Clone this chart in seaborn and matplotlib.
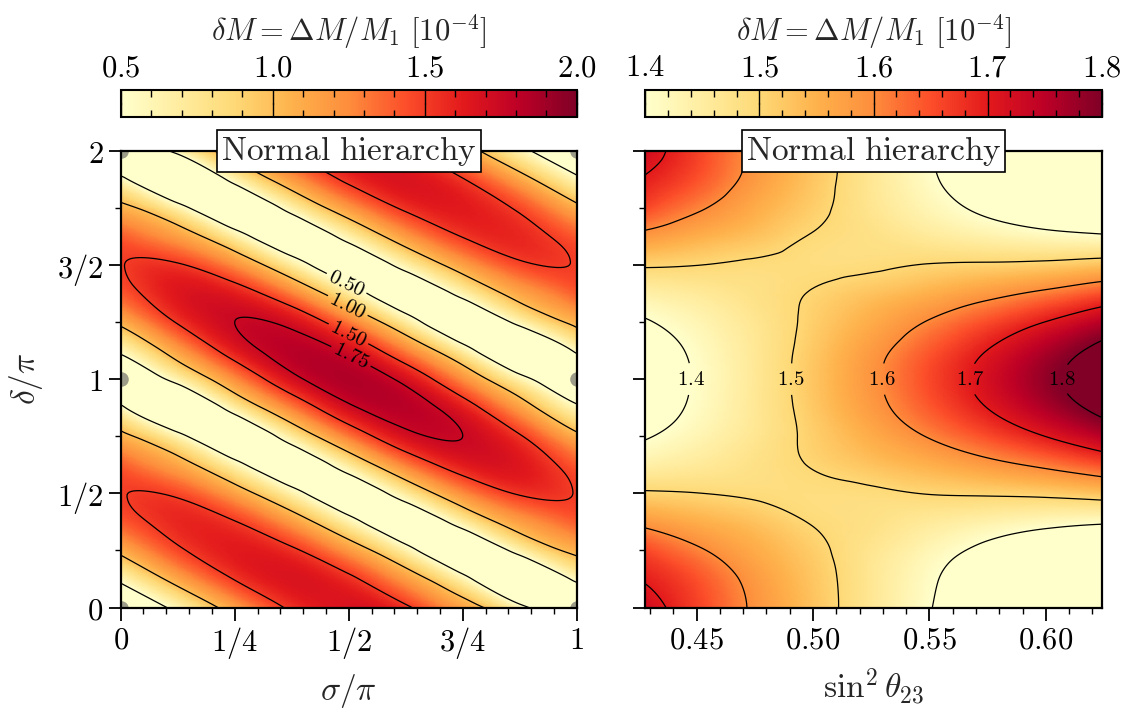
import numpy as np
import matplotlib
matplotlib.use("Agg")
import matplotlib.pyplot as plt
import matplotlib.tri as mtri
from matplotlib.ticker import MultipleLocator
import seaborn as sns

# grid: sigma/pi across, delta/pi down the rows
sigma_vals = [0.0, 0.125, 0.25, 0.375, 0.5, 0.625, 0.75, 0.875, 1.0]
delta_vals = [0.0, 0.125, 0.25, 0.375, 0.5, 0.625, 0.75, 0.875, 1.0,
              1.125, 1.25, 1.375, 1.5, 1.625, 1.75, 1.875, 2.0]
dm_sigma = [
    [0.00, 0.61, 1.15, 1.54, 1.68, 1.54, 1.15, 0.61, 0.00],
    [0.58, 1.12, 1.51, 1.67, 1.55, 1.18, 0.62, 0.11, 0.58],
    [1.07, 1.46, 1.63, 1.54, 1.19, 0.64, 0.20, 0.63, 1.07],
    [1.40, 1.58, 1.51, 1.18, 0.64, 0.26, 0.67, 1.16, 1.40],
    [1.49, 1.46, 1.15, 0.64, 0.28, 0.70, 1.24, 1.52, 1.49],
    [1.40, 1.12, 0.62, 0.26, 0.71, 1.29, 1.62, 1.65, 1.40],
    [1.07, 0.61, 0.20, 0.70, 1.31, 1.69, 1.75, 1.52, 1.07],
    [0.58, 0.11, 0.67, 1.29, 1.71, 1.82, 1.62, 1.16, 0.58],
    [0.00, 0.63, 1.24, 1.69, 1.85, 1.69, 1.24, 0.63, 0.00],
    [0.58, 1.16, 1.62, 1.82, 1.71, 1.29, 0.67, 0.11, 0.58],
    [1.07, 1.52, 1.75, 1.69, 1.31, 0.70, 0.20, 0.61, 1.07],
    [1.40, 1.65, 1.62, 1.29, 0.71, 0.26, 0.62, 1.12, 1.40],
    [1.49, 1.52, 1.24, 0.70, 0.28, 0.64, 1.15, 1.46, 1.49],
    [1.40, 1.16, 0.67, 0.26, 0.64, 1.18, 1.51, 1.58, 1.40],
    [1.07, 0.63, 0.20, 0.64, 1.19, 1.54, 1.63, 1.46, 1.07],
    [0.58, 0.11, 0.62, 1.18, 1.55, 1.67, 1.51, 1.12, 0.58],
    [0.00, 0.61, 1.15, 1.54, 1.68, 1.54, 1.15, 0.61, 0.00],
]

# grid: sin^2(theta23) across, delta/pi down the rows
s23_vals = [0.428, 0.45, 0.475, 0.50, 0.525, 0.55, 0.575, 0.60, 0.624]
dm_s23 = [
    [1.725, 1.663, 1.591, 1.528, 1.464, 1.403, 1.341, 1.277, 1.215],
    [1.695, 1.649, 1.582, 1.524, 1.465, 1.409, 1.352, 1.294, 1.239],
    [1.657, 1.609, 1.559, 1.514, 1.469, 1.426, 1.384, 1.343, 1.307],
    [1.583, 1.556, 1.529, 1.497, 1.480, 1.457, 1.437, 1.420, 1.409],
    [1.507, 1.501, 1.493, 1.489, 1.492, 1.502, 1.507, 1.514, 1.529],
    [1.442, 1.457, 1.479, 1.503, 1.528, 1.553, 1.582, 1.613, 1.649],
    [1.395, 1.427, 1.467, 1.512, 1.557, 1.604, 1.652, 1.701, 1.751],
    [1.369, 1.410, 1.462, 1.520, 1.580, 1.641, 1.701, 1.761, 1.819],
    [1.360, 1.405, 1.461, 1.524, 1.588, 1.655, 1.719, 1.783, 1.843],
    [1.369, 1.410, 1.462, 1.520, 1.580, 1.641, 1.701, 1.761, 1.819],
    [1.395, 1.427, 1.467, 1.512, 1.557, 1.604, 1.652, 1.701, 1.751],
    [1.442, 1.457, 1.479, 1.503, 1.528, 1.553, 1.582, 1.613, 1.649],
    [1.507, 1.501, 1.493, 1.489, 1.492, 1.502, 1.507, 1.514, 1.529],
    [1.583, 1.556, 1.529, 1.497, 1.480, 1.457, 1.437, 1.420, 1.409],
    [1.657, 1.609, 1.559, 1.514, 1.469, 1.426, 1.384, 1.343, 1.307],
    [1.695, 1.649, 1.582, 1.524, 1.465, 1.409, 1.352, 1.294, 1.239],
    [1.725, 1.663, 1.591, 1.528, 1.464, 1.403, 1.341, 1.277, 1.215],
]

levels_sigma = [0.5, 1.0, 1.5, 1.75]
levels_s23 = [1.4, 1.5, 1.6, 1.7, 1.8]

# special points (sigma, delta) marked in grey
dot_sigma = [0, 0, 0, 1, 1, 1]
dot_delta = [0, 1, 2, 0, 1, 2]

sigma_ticks = [0, 0.25, 0.5, 0.75, 1]
sigma_ticklabels = ["$0$", "$1/4$", "$1/2$", "$3/4$", "$1$"]
delta_ticks = [0, 0.5, 1, 1.5, 2]
delta_ticklabels = ["$0$", "$1/2$", "$1$", "$3/2$", "$2$"]
s23_ticks = [0.45, 0.50, 0.55, 0.60]
s23_ticklabels = ["$0.45$", "$0.50$", "$0.55$", "$0.60$"]
cbar1_ticks = [0.5, 1.0, 1.5, 2.0]
cbar2_ticks = [1.4, 1.5, 1.6, 1.7, 1.8]

sns.set_theme(style="ticks")
plt.rcParams["font.family"] = ["DejaVu Serif"]
plt.rcParams["mathtext.fontset"] = "cm"
plt.rcParams["axes.edgecolor"] = "black"
plt.rcParams["axes.axisbelow"] = False
plt.rcParams["xtick.color"] = "black"
plt.rcParams["ytick.color"] = "black"

cmap = sns.color_palette("YlOrRd", as_cmap=True)


def smooth_field(xv, yv, z, subdiv=4):
    # cubic refinement of the read grid, done in unit-square coordinates
    nx, ny = len(xv), len(yv)
    X, Y = np.meshgrid(xv, yv)
    x0, xr = min(xv), max(xv) - min(xv)
    y0, yr = min(yv), max(yv) - min(yv)
    tris = []
    for i in range(ny - 1):
        for j in range(nx - 1):
            a, b = i * nx + j, i * nx + j + 1
            c, d = (i + 1) * nx + j, (i + 1) * nx + j + 1
            tris.append([a, b, c])
            tris.append([b, d, c])
    tri = mtri.Triangulation(((X - x0) / xr).ravel(), ((Y - y0) / yr).ravel(), tris)
    tri_f, z_f = mtri.UniformTriRefiner(tri).refine_field(np.asarray(z, float).ravel(), subdiv=subdiv)
    tri_out = mtri.Triangulation(x0 + tri_f.x * xr, y0 + tri_f.y * yr, tri_f.triangles)
    return tri_out, z_f


fig = plt.figure(figsize=(11.28, 7.09), dpi=100)
ax1 = fig.add_axes([0.107, 0.143, 0.4043, 0.6446])
ax2 = fig.add_axes([0.5721, 0.143, 0.4046, 0.6446])
cax1 = fig.add_axes([0.107, 0.8346, 0.4043, 0.0385])
cax2 = fig.add_axes([0.5721, 0.8346, 0.4046, 0.0385])

# left panel
tri1, z1 = smooth_field(sigma_vals, delta_vals, dm_sigma)
pc1 = ax1.tripcolor(tri1, z1, shading="gouraud", cmap=cmap, vmin=0.5, vmax=2.0, rasterized=True)
cs1 = ax1.tricontour(tri1, z1, levels=levels_sigma, colors="black", linewidths=0.9)
ax1.clabel(cs1, fmt=lambda v: f"${v:.2f}$", fontsize=15, inline_spacing=3,
           manual=[(0.5, 1.44), (0.5, 1.33), (0.5, 1.20), (0.5, 1.08)])
ax1.scatter(dot_sigma, dot_delta, s=110, color="#9c9c88", zorder=3, clip_on=True, linewidths=0)
ax1.set_xlim(0, 1)
ax1.set_ylim(0, 2)
ax1.set_xticks(sigma_ticks, sigma_ticklabels)
ax1.xaxis.set_minor_locator(MultipleLocator(0.05))
ax1.set_yticks(delta_ticks, delta_ticklabels)
ax1.yaxis.set_minor_locator(MultipleLocator(0.25))
ax1.set_xlabel(r"$\sigma/\pi$", fontsize=24, labelpad=8)
ax1.set_ylabel(r"$\delta/\pi$", fontsize=24, labelpad=9)

# right panel
tri2, z2 = smooth_field(s23_vals, delta_vals, dm_s23)
pc2 = ax2.tripcolor(tri2, z2, shading="gouraud", cmap=cmap, vmin=1.4, vmax=1.8, rasterized=True)
cs2 = ax2.tricontour(tri2, z2, levels=levels_s23, colors="black", linewidths=0.9)
lab2 = ax2.clabel(cs2, fmt=lambda v: f"${v:.1f}$", fontsize=15, inline_spacing=2,
                  manual=[(0.448, 1.0), (0.49, 1.0), (0.527, 1.0), (0.566, 1.0), (0.605, 1.0)])
for t in lab2:
    t.set_rotation(0)
ax2.set_xlim(0.428, 0.624)
ax2.set_ylim(0, 2)
ax2.set_xticks(s23_ticks, s23_ticklabels)
ax2.xaxis.set_minor_locator(MultipleLocator(0.01))
ax2.set_yticks(delta_ticks, [])
ax2.yaxis.set_minor_locator(MultipleLocator(0.25))
ax2.set_xlabel(r"$\sin^2\theta_{23}$", fontsize=24, labelpad=8)

for ax in (ax1, ax2):
    ax.tick_params(which="both", direction="out", labelsize=22, top=False, right=False)
    ax.tick_params(which="major", length=9, width=1.3)
    ax.tick_params(which="minor", length=4.5, width=1.0)
    for sp in ax.spines.values():
        sp.set_linewidth(1.6)
        sp.set_zorder(4)
    ax.text(0.5, 1.0, r"$\mathrm{Normal\ hierarchy}$", transform=ax.transAxes,
            ha="center", va="center", fontsize=24, zorder=6,
            bbox=dict(boxstyle="square,pad=0.12", fc="white", ec="black", lw=1.2))

# colour bars on top
for pc, cax, ticks, minor in ((pc1, cax1, cbar1_ticks, 0.1), (pc2, cax2, cbar2_ticks, 0.02)):
    cb = fig.colorbar(pc, cax=cax, orientation="horizontal")
    cb.set_ticks(ticks, labels=[f"${t:.1f}$" for t in ticks])
    cax.xaxis.set_minor_locator(MultipleLocator(minor))
    cax.set_axisbelow(False)
    cax.tick_params(which="both", direction="in", top=True, bottom=True,
                    labeltop=True, labelbottom=False, labelsize=22, pad=5)
    cax.tick_params(which="major", length=10, width=1.0)
    cax.tick_params(which="minor", length=5, width=1.0)
    cax.xaxis.set_label_position("top")
    cax.set_xlabel(r"$\delta M = \Delta M/M_1\ [10^{-4}]$", fontsize=22, labelpad=8)
    cb.outline.set_linewidth(1.5)

fig.savefig("out.png", dpi=100)
